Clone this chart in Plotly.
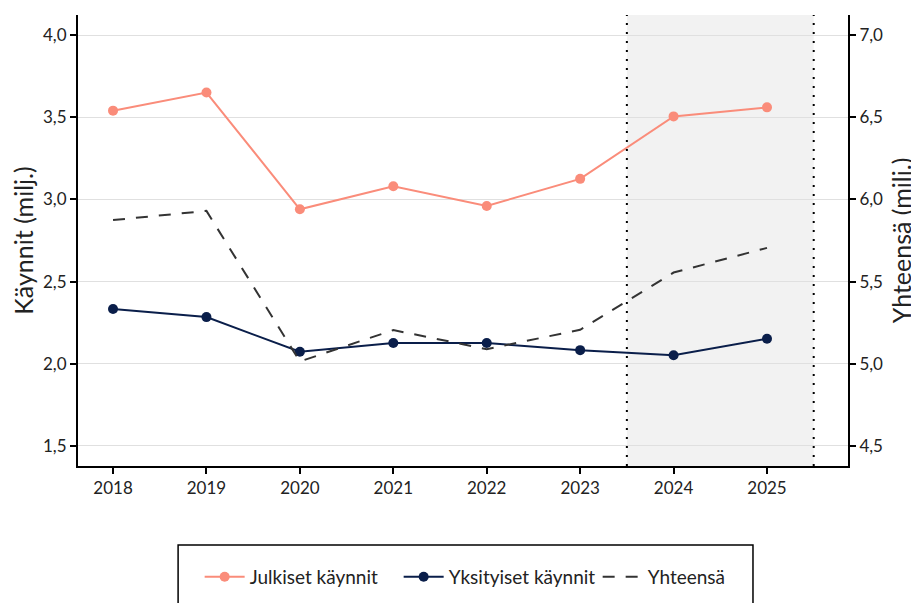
import plotly.graph_objects as go

# Data
vuodet = [2018, 2019, 2020, 2021, 2022, 2023, 2024, 2025]
julkiset = [3.54, 3.65, 2.94, 3.08, 2.96, 3.125, 3.505, 3.56]
yksityiset = [2.333, 2.284, 2.073, 2.126, 2.126, 2.083, 2.052, 2.152]
yhteensa = [5.874, 5.93, 5.014, 5.205, 5.089, 5.207, 5.555, 5.705]
ennuste_alku, ennuste_loppu = 2023.5, 2025.5

font = "Lato"

fig = go.Figure()

fig.add_trace(go.Scatter(
    x=vuodet, y=julkiset, name="Julkiset käynnit",
    mode="lines+markers",
    line=dict(color="#FA8C7A", width=2),
    marker=dict(size=10, color="#FA8C7A")))

fig.add_trace(go.Scatter(
    x=vuodet, y=yksityiset, name="Yksityiset käynnit",
    mode="lines+markers",
    line=dict(color="#0A1E4A", width=2),
    marker=dict(size=10, color="#0A1E4A")))

fig.add_trace(go.Scatter(
    x=vuodet, y=yhteensa, name="Yhteensä", yaxis="y2",
    mode="lines",
    line=dict(color="#333333", width=2, dash="12px,11px")))

# ennustealue
fig.add_shape(type="rect", xref="x", yref="paper",
              x0=ennuste_alku, x1=ennuste_loppu, y0=0, y1=1,
              fillcolor="#F2F2F2", line=dict(width=0), layer="below")
for xv in (ennuste_alku, ennuste_loppu):
    fig.add_shape(type="line", xref="x", yref="paper",
                  x0=xv, x1=xv, y0=0, y1=1,
                  line=dict(color="black", width=2, dash="2px,7px"))

# legend box
fig.add_shape(type="rect", xref="paper", yref="paper",
              x0=0.13, x1=0.8766, y0=-0.1752, y1=-0.33,
              line=dict(color="black", width=1.5), fillcolor="rgba(0,0,0,0)")

axis_common = dict(showline=True, linecolor="black", linewidth=2,
                   ticks="outside", tickcolor="black", ticklen=6, tickwidth=1.5,
                   zeroline=False, automargin=False)

# page body has an 8px margin, so the figure is 8px smaller and margins shifted
fig.update_layout(
    width=911, height=595,
    margin=dict(l=70, r=71, t=7, b=137),
    paper_bgcolor="white", plot_bgcolor="white",
    separators=", ",
    font=dict(family=font, size=17, color="#222222"),
    xaxis=dict(range=[2017.625, 2025.867], tickmode="array", tickvals=vuodet,
               showgrid=False, **axis_common),
    yaxis=dict(range=[1.378, 4.122], tickvals=[1.5, 2.0, 2.5, 3.0, 3.5, 4.0],
               tickformat=".1f", showgrid=True, gridcolor="#E0E0E0", gridwidth=1,
               title=dict(text="Käynnit (milj.)", font=dict(size=25), standoff=8),
               **axis_common),
    yaxis2=dict(range=[4.378, 7.122], tickvals=[4.5, 5.0, 5.5, 6.0, 6.5, 7.0],
                tickformat=".1f", overlaying="y", side="right", showgrid=False,
                title=dict(text="Yhteensä (milj.)", font=dict(size=25), standoff=11),
                **axis_common),
    legend=dict(orientation="h", x=0.158, xanchor="left", y=-0.246, yanchor="middle",
                borderwidth=0, bgcolor="rgba(0,0,0,0)", entrywidth=144, itemwidth=40,
                font=dict(size=19)),
)

fig.write_html("out.html")
